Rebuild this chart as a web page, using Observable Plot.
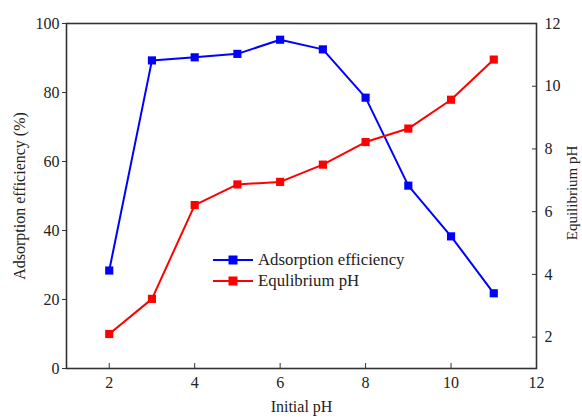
<!DOCTYPE html>
<html>
<head>
<meta charset="utf-8">
<script src="https://cdn.jsdelivr.net/npm/d3@7"></script>
<script src="https://cdn.jsdelivr.net/npm/@observablehq/plot@0.6"></script>
<style>
  html, body { margin: 0; padding: 0; background: #fff; }
  #wrap { position: relative; width: 582px; height: 420px; font-family: "Liberation Serif", "DejaVu Serif", serif; }
  #legend { position: absolute; left: 212px; top: 250px; font-size: 16.8px; color: #222; line-height: 20.7px; }
  #legend div { display: flex; align-items: center; height: 20.7px; }
  #legend svg { margin-right: 4px; }
</style>
</head>
<body>
<div id="wrap"></div>
<script>
const initialPH = [2, 3, 4, 5, 6, 7, 8, 9, 10, 11];
const adsorption = [28.4, 89.3, 90.2, 91.2, 95.3, 92.5, 78.5, 53.0, 38.3, 21.8];
const equilibriumPH = [2.1, 3.22, 6.21, 6.87, 6.95, 7.5, 8.22, 8.65, 9.57, 10.85];
const xTicks = [2, 4, 6, 8, 10, 12];
const leftTicks = [0, 20, 40, 60, 80, 100];
const rightTicks = [2, 4, 6, 8, 10, 12];
const seriesNames = ["Adsorption efficiency", "Equlibrium pH"];
const colors = ["#0000ff", "#ff0000"];

const leftDomain = [0, 100];
const rightDomain = [1, 12];
// map right-axis value into left-axis units
const toLeft = v => leftDomain[0] + (v - rightDomain[0]) / (rightDomain[1] - rightDomain[0]) * (leftDomain[1] - leftDomain[0]);

const blue = initialPH.map((x, i) => ({x, y: adsorption[i]}));
const red = initialPH.map((x, i) => ({x, y: toLeft(equilibriumPH[i])}));

const font = "Liberation Serif, DejaVu Serif, serif";

const chart = Plot.plot({
  width: 582,
  height: 420,
  marginLeft: 66,
  marginRight: 46,
  marginTop: 23,
  marginBottom: 52,
  style: {fontFamily: font, fontSize: "16px", color: "#222", background: "#fff"},
  x: {domain: [1, 12]},
  y: {domain: leftDomain},
  marks: [
    Plot.axisX({ticks: xTicks, tickSize: 0, tickPadding: 8, fontSize: 16, label: null}),
    Plot.axisX({ticks: xTicks, tickSize: -5, tickFormat: () => "", label: null, stroke: "#333"}),
    Plot.axisY({ticks: leftTicks, tickSize: 4, tickPadding: 3, fontSize: 16, label: null, stroke: "#333"}),
    Plot.axisY({anchor: "right", ticks: rightTicks.map(toLeft), tickFormat: (d, i) => rightTicks[i], tickSize: 0, tickPadding: 8, fontSize: 16, label: null}),
    Plot.axisY({anchor: "right", ticks: rightTicks.map(toLeft), tickFormat: () => "", tickSize: -5, label: null, stroke: "#333"}),
    Plot.frame({stroke: "#333", strokeWidth: 1.6}),
    Plot.line(blue, {x: "x", y: "y", stroke: colors[0], strokeWidth: 2}),
    Plot.dot(blue, {x: "x", y: "y", symbol: "square", r: 4.6, fill: colors[0], stroke: "none"}),
    Plot.line(red, {x: "x", y: "y", stroke: colors[1], strokeWidth: 2}),
    Plot.dot(red, {x: "x", y: "y", symbol: "square", r: 4.6, fill: colors[1], stroke: "none"}),
    Plot.text(["Initial pH"], {frameAnchor: "bottom", textAnchor: "middle", dy: 43, fontSize: 16, fill: "#222"}),
    Plot.text(["Adsorption efficiency (%)"], {frameAnchor: "left", textAnchor: "middle", dx: -47, rotate: -90, fontSize: 16, fill: "#222"}),
    Plot.text(["Equilibrium pH"], {frameAnchor: "right", textAnchor: "middle", dx: 36, dy: -3, rotate: -90, fontSize: 15, fill: "#222"})
  ]
});

const wrap = document.getElementById("wrap");
wrap.appendChild(chart);

const legend = document.createElement("div");
legend.id = "legend";
seriesNames.forEach((name, i) => {
  const row = document.createElement("div");
  row.innerHTML = `<svg width="42" height="12"><line x1="1" y1="6" x2="41" y2="6" stroke="${colors[i]}" stroke-width="2"/><rect x="16.5" y="1.5" width="9" height="9" fill="${colors[i]}"/></svg><span>${name}</span>`;
  legend.appendChild(row);
});
wrap.appendChild(legend);
</script>
</body>
</html>
